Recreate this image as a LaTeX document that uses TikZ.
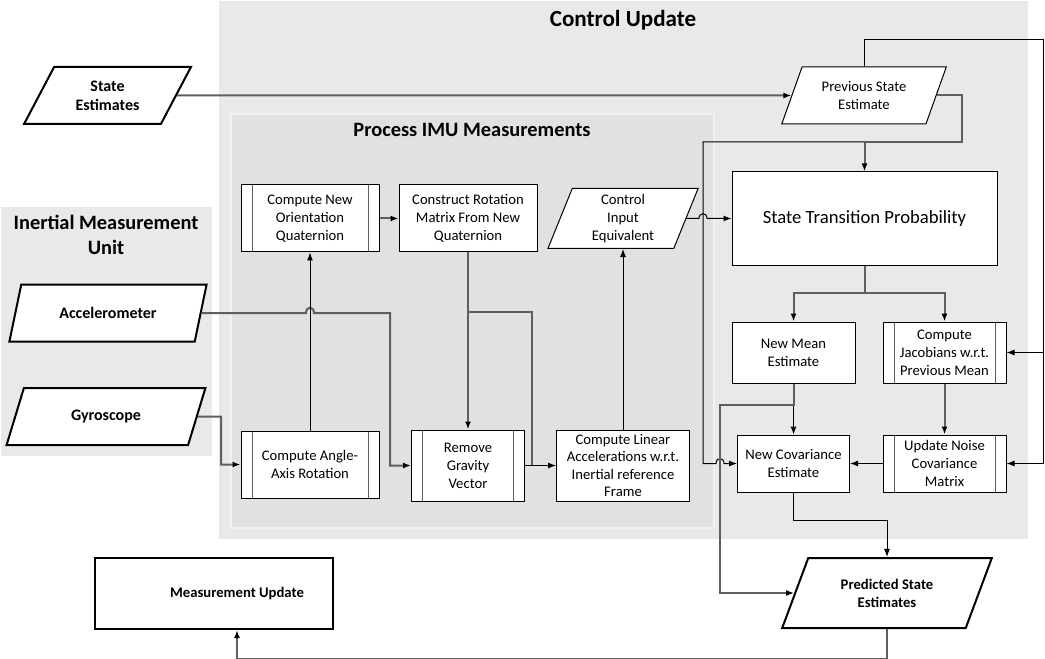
\documentclass[tikz,border=0pt]{standalone}
\usepackage{fontspec}
\setmainfont{Carlito}
\usepackage{tikz}
\usetikzlibrary{shapes.geometric,arrows.meta}
\definecolor{panel}{RGB}{233,233,233}
\definecolor{subpanel}{RGB}{225,225,225}
\definecolor{paneledge}{RGB}{242,242,242}
\definecolor{busgray}{RGB}{95,95,95}
\tikzset{%
    sub node/.style={%
        main node,
        path picture={%
            \draw[busgray,line width=0.75pt]
              ([xshift=8.25pt]path picture bounding box.north west) --
              ([xshift=8.25pt]path picture bounding box.south west)
              ([xshift=-8.25pt]path picture bounding box.north east) --
              ([xshift=-8.25pt]path picture bounding box.south east);
        }
    },
    data node/.style n args={2}{%
        trapezium,trapezium stretches=true,
        trapezium left angle=#1,trapezium right angle=#2,
        draw,fill=white,line width=0.75pt,inner sep=1pt,align=center,
        font=\fontsize{11}{13.4}\selectfont
    }
}

\begin{document}
\begin{tikzpicture}[x=0.75pt,y=-0.75pt,>={Latex[length=6pt,width=4.5pt]},
  main node/.style={rectangle,draw,fill=white,line width=0.75pt,inner sep=1pt,
    align=center,font=\fontsize{11}{13.4}\selectfont},
  io node/.style={line width=1.5pt,font=\fontsize{12}{14.4}\selectfont\bfseries},
  title/.style={font=\fontsize{15.3}{18.5}\selectfont\bfseries,align=center},
  wire/.style={draw=black,line width=0.75pt,->},
  bus/.style={draw=busgray,line width=1.5pt,-{Latex[length=6pt,width=4.5pt,color=black]}}]

  \useasboundingbox (0,0) rectangle (1045,659);
  % panels
  \fill[panel] (219,1) rectangle (1028,539);
  \fill[panel] (1,207) rectangle (212,456);
  \filldraw[fill=subpanel,draw=paneledge,line width=1.5pt] (231,114) rectangle (714,528);
  \node[title,font=\fontsize{17.3}{20}\selectfont\bfseries] (t1) at (623,20) {Control Update};
  \node[title] (t2) at (472,130) {Process IMU Measurements};
  \node[title] (t3) at (106,235) {Inertial Measurement\\Unit};

  % inputs and outputs
  \node[data node={60}{120},io node,minimum width=125.25pt,minimum height=42.75pt] (estin) at (107.5,95.5) {State\\Estimates};
  \node[data node={64}{116},io node,minimum width=148.5pt,minimum height=42.75pt] (accel) at (108,313) {Accelerometer};
  \node[data node={64}{116},io node,minimum width=150pt,minimum height=42.75pt] (gyro) at (106,416.5) {Gyroscope};
  \node[main node,io node,font=\fontsize{11}{13.4}\selectfont\bfseries,minimum width=178.5pt,minimum height=53.25pt] (measupd) at (214,593.5) {\hspace*{34.5pt}Measurement Update};
  \node[data node={63}{117},io node,font=\fontsize{11}{13.4}\selectfont\bfseries,minimum width=157.5pt,minimum height=52.5pt] (predest) at (887,593) {Predicted State\\Estimates};

  % process imu measurements
  \node[sub node,minimum width=103.5pt,minimum height=50.25pt] (orient) at (310,218.5) {Compute New\\Orientation\\Quaternion};
  \node[main node,minimum width=103.5pt,minimum height=50.25pt] (rotmat) at (468,218.5) {Construct Rotation\\Matrix From New\\Quaternion};
  \node[data node={73}{107},minimum width=113.25pt,minimum height=45pt] (ctrlin) at (623,218.5) {Control\\Input\\Equivalent};
  \node[sub node,minimum width=103.5pt,minimum height=50.25pt] (angax) at (310,464.5) {Compute Angle-\\Axis Rotation};
  \node[sub node,minimum width=84.75pt,minimum height=53.25pt] (gravity) at (468,465.5) {Remove\\Gravity\\Vector};
  \node[main node,inner sep=0pt,font=\fontsize{11}{12.9}\selectfont,minimum width=99.75pt,minimum height=53.25pt] (linacc) at (623,465.5) {Compute Linear\\Accelerations w.r.t.\\Inertial reference\\Frame};

  % control update
  \node[data node={65}{115},minimum width=124.5pt,minimum height=42.75pt] (prevest) at (864,95.5) {Previous State\\Estimate};
  \node[main node,font=\fontsize{14}{17}\selectfont,minimum width=198.75pt,minimum height=69.75pt] (stp) at (864.5,218.5) {State Transition Probability};
  \node[main node,minimum width=92.25pt,minimum height=45.75pt] (newmean) at (793.5,352.5) {New Mean\\Estimate};
  \node[sub node,minimum width=92.25pt,minimum height=45.75pt] (jacob) at (944.5,352.5) {Compute\\Jacobians w.r.t.\\Previous Mean};
  \node[main node,minimum width=84pt,minimum height=42.75pt] (newcov) at (793.5,463.5) {New Covariance\\Estimate};
  \node[sub node,minimum width=92.25pt,minimum height=42.75pt] (noise) at (944.5,463.5) {Update Noise\\Covariance\\Matrix};

  % connectors
  \draw[bus] (estin.east) -- (prevest.west);
  \coordinate (fbtop) at (1043,40);
  \draw[wire] (prevest.center |- prevest.north) |- (fbtop) |- (jacob.east);
  \draw[wire] (fbtop) |- (noise.east);
  \coordinate (bend) at (962,142);
  \coordinate (split) at (864.5,142);
  \draw[wire] (split) -| (703,463.5) -- (716,463.5) .. controls (716,457) and (724,457) .. (724,463.5) -- (newcov.west);
  \draw[bus] (prevest.east) -| (bend) -| (stp.north);
  \draw[wire] (ctrlin.east) -- (699,218.5) .. controls (699,212) and (707,212) .. (707,218.5) -- (stp.west);
  \coordinate (fork) at (864.5,293);
  \draw[bus] (stp.south) -- (fork) -| (newmean.north);
  \draw[bus] (fork) -| (jacob.north);
  \draw[wire] (newmean.south) -- (newcov.north);
  \draw[bus] (newmean.south) |- (720,405) |- (predest.west);
  \draw[bus] (jacob.south) -- (noise.north);
  \draw[wire] (noise.west) -- (newcov.east);
  \draw[wire] (newcov.south) -- ++(0,28) -| (predest.center |- predest.north);
  \draw[bus] (predest.center |- predest.south) -- ++(0,30) -| ([xshift=17.25pt]measupd.south);

  \draw[bus] (accel.east) -- (306,313) .. controls (306,306) and (314,306) .. (314,313) -| (390,465.5) -- (gravity.west);
  \draw[bus] (gyro.east) -- (221,416.5) |- (angax.west);
  \draw[wire] (angax.north) -- (orient.south);
  \draw[bus] (orient.east) -- (rotmat.west);
  \draw[bus] (rotmat.south) -- (gravity.north);
  \coordinate (tap) at (468,312);
  \draw[bus,-] (tap) -| (532,465.5);
  \draw[wire] (gravity.east) -- (linacc.west);
  \draw[wire] (linacc.north) -- (ctrlin.center |- ctrlin.south);
\end{tikzpicture}
\end{document}
